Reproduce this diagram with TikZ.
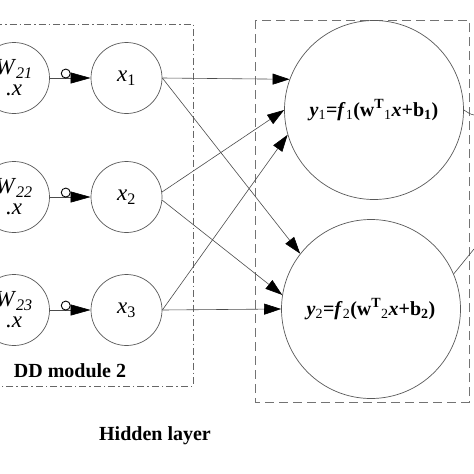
\documentclass[tikz,border=0pt]{standalone}
\usepackage{fontspec}
\setmainfont{Liberation Serif}
\usetikzlibrary{arrows.meta}
\begin{document}
\begin{tikzpicture}[x=1pt,y=-1pt,
  neuron/.style={circle,draw=black!65,line width=0.7pt,inner sep=0pt,align=center},
  small/.style={neuron,minimum size=71pt,font=\fontsize{23}{20}\selectfont},
  big/.style={neuron,minimum size=179pt,font=\bfseries\fontsize{20}{20}\selectfont},
  link/.style={draw=black!70,line width=0.6pt},
  arr/.style={link,-{Triangle[length=17pt,width=11pt,color=black]}},
  inarr/.style={link,-{Triangle[length=20pt,width=11pt,color=black]}},
  ocirc/.style={circle,draw=black,line width=0.9pt,fill=white,inner sep=0pt,minimum size=9pt},
  ddbox/.style={draw=black!60,line width=0.7pt,dash pattern=on 7pt off 3pt on 1.5pt off 3pt},
  hidbox/.style={draw=black!55,line width=0.9pt,dash pattern=on 9pt off 5pt},
  lbl/.style={font=\bfseries\fontsize{20}{22}\selectfont}
]
\useasboundingbox (0,0) rectangle (474,474);
\fill[white] (0,0) rectangle (474,474);

% boxes
\draw[ddbox] (-5,24) -- (193,24) -- (193,386) -- (-5,386);
\draw[hidbox] (255,20) rectangle (469,402);

% input circles
\node[small] (w1) at (14,78) {\textit{W}\textsubscript{\textit{21}}\\[1pt]\textit{.x}};
\node[small] (w2) at (14,197) {\textit{W}\textsubscript{\textit{22}}\\[1pt]\textit{.x}};
\node[small] (w3) at (14,310) {\textit{W}\textsubscript{\textit{23}}\\[1pt]\textit{.x}};

\node[small] (x1) at (126.5,78) {\textit{x}\textsubscript{1}};
\node[small] (x2) at (126.5,197) {\textit{x}\textsubscript{2}};
\node[small] (x3) at (126.5,310) {\textit{x}\textsubscript{3}};

\node[big] (y1) at (374,110) {\textit{y}\textsubscript{\mdseries 1}=\textit{f}\textsubscript{\mdseries 1}(w\textsuperscript{T}\textsubscript{\mdseries 1}\textit{x}+b\textsubscript{1})};
\node[big] (y2) at (371,309) {\textit{y}\textsubscript{\mdseries 2}=\textit{f}\textsubscript{\mdseries 2}(w\textsuperscript{T}\textsubscript{\mdseries 2}\textit{x}+b\textsubscript{2})};

% W -> x connectors with open circle
\foreach \i in {1,2,3}{
  \draw[inarr] (w\i.east) -- (x\i.west) node[ocirc,pos=0.39,anchor=south,yshift=-0.5pt] (oc\i) {};
}

% x -> y connectors
\draw[arr] (x1.east) -- (y1.160);
\draw[arr] (x1.east) -- (y2.142);
\draw[arr] (x2.8) -- (y1.180);
\draw[arr] (x3.east) -- (y1.196);
\draw[arr] (x2.-5) -- (y2.171);
\draw[arr] (x3.east) -- (y2.180);

% outgoing lines at right edge
\coordinate (o1) at (474,115);
\coordinate (o2) at (474,249);
\draw[link] (y1.0) to[out=-30,in=170] (o1);
\draw[link] (y2.23) -- (o2);

% labels
\node[lbl] (dd) at (70,371) {DD module 2};
\node[lbl] (hl) at (155,436) {Hidden layer};
\end{tikzpicture}
\end{document}
